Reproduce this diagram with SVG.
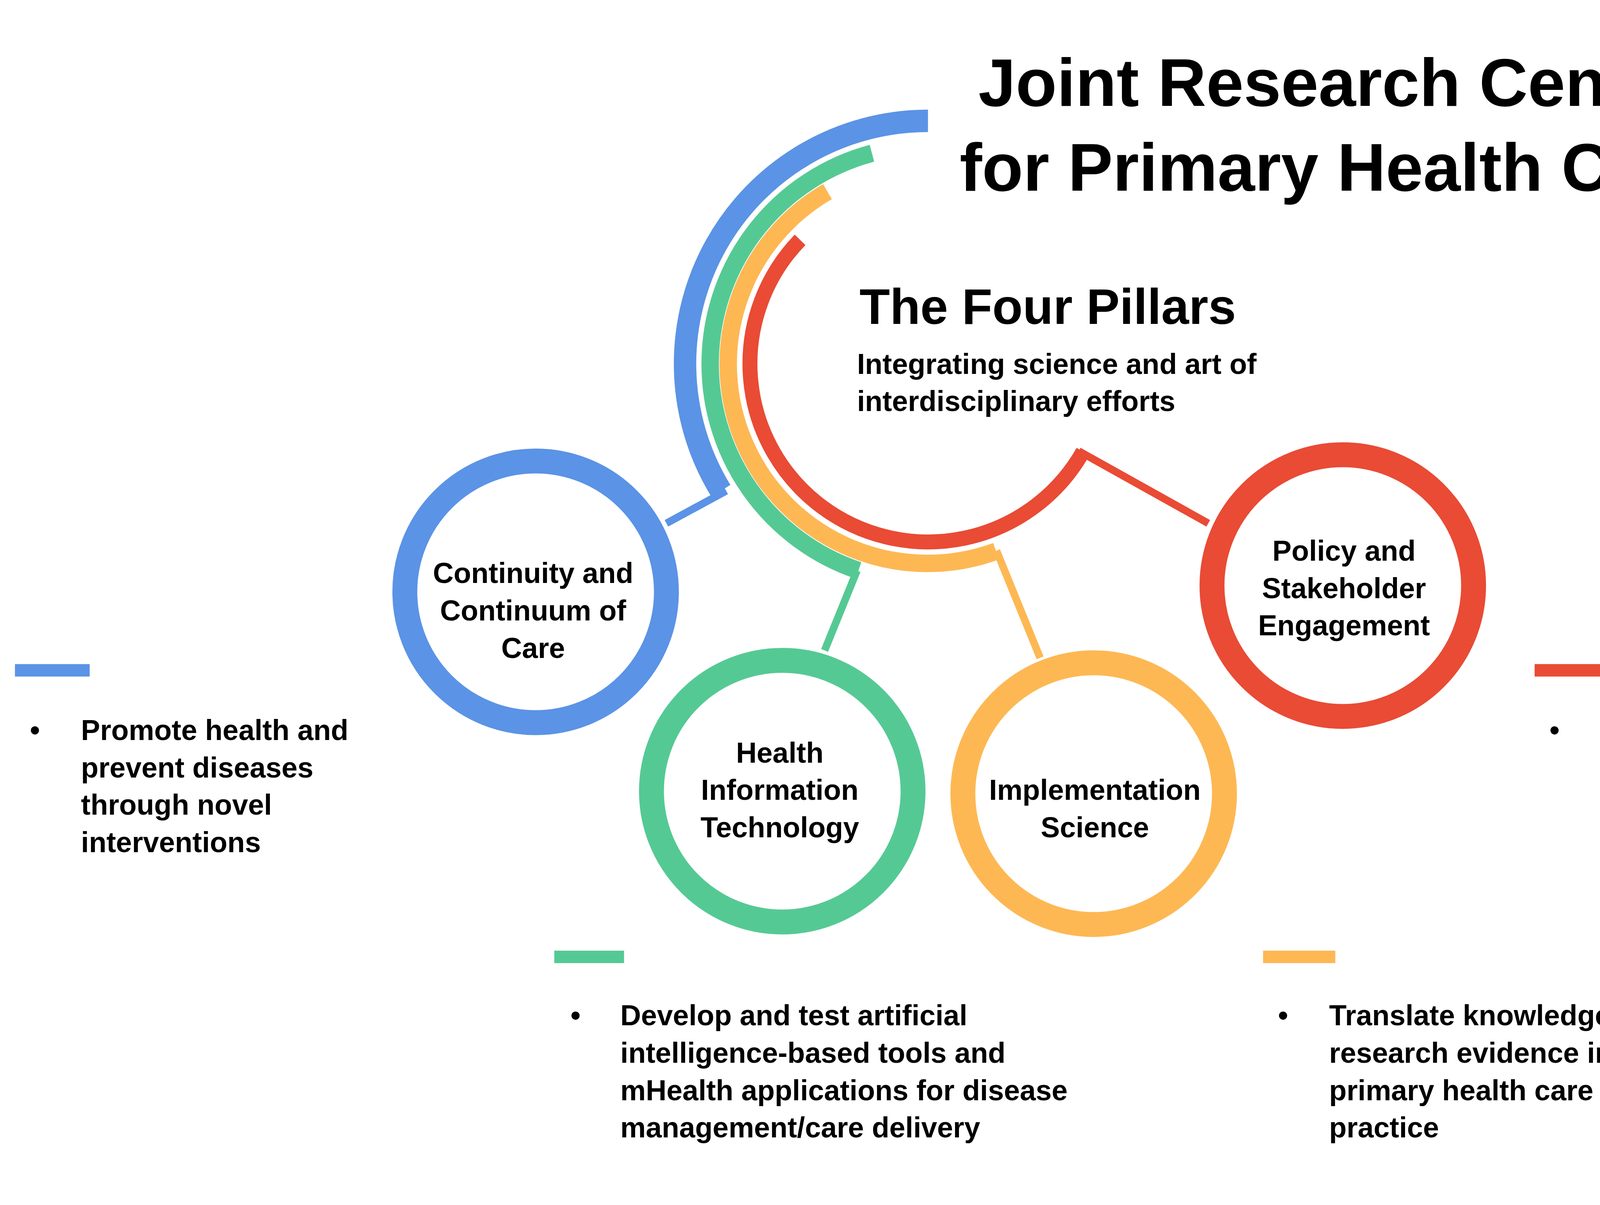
<svg xmlns="http://www.w3.org/2000/svg" width="5000" height="3084" viewBox="0 0 5000 3084">
<style>
text{font-family:"Liberation Sans",Arial,sans-serif;font-weight:bold;fill:#000}
.c{font-size:23px;text-anchor:middle}
.b{font-size:23px}
.arc{fill:none}
.blue{stroke:#5B93E6}.green{stroke:#55C994}.orange{stroke:#FDB854}.red{stroke:#E94B35}
.ring{fill:#fff;stroke-width:20}
</style>
<rect width="5000" height="3084" fill="#fff"/>
<g transform="scale(3.1888)">
<g id="title">
<text x="1072" y="85" style="font-size:54px" text-anchor="middle">Joint Research Centre</text>
<text x="1072" y="153" style="font-size:54px" text-anchor="middle">for Primary Health Care</text>
</g>
<g id="pillars">
<path class="arc blue" stroke-width="18" d="M745,97 A195,195 0 0 0 578.7,393.9"/>
<path class="arc green" stroke-width="14" d="M700,123 A175,175 0 0 0 689.2,457.9"/>
<path class="arc orange" stroke-width="14" d="M664.3,153.8 A160,160 0 0 0 799.7,442.4"/>
<path class="arc red" stroke-width="12" d="M642.3,192.5 A143,143 0 1 0 869.5,362.4"/>
<text x="690" y="260" style="font-size:40px">The Four Pillars</text>
<text x="688" y="300" class="b">Integrating science and art of</text>
<text x="688" y="330" class="b">interdisciplinary efforts</text>
</g>
<g id="connectors" stroke-width="6">
<line class="blue" x1="583" y1="394" x2="535" y2="420"/>
<line class="green" x1="688" y1="458" x2="662" y2="522"/>
<line class="orange" x1="800" y1="442" x2="835" y2="528"/>
<line class="red" x1="866" y1="362" x2="970" y2="420"/>
</g>
<g id="continuity">
<circle class="ring blue" cx="430" cy="475" r="105"/>
<text class="c" x="428" y="468">Continuity and</text>
<text class="c" x="428" y="498">Continuum of</text>
<text class="c" x="428" y="528">Care</text>
</g>
<g id="hit">
<circle class="ring green" cx="628" cy="635" r="105"/>
<text class="c" x="626" y="612">Health</text>
<text class="c" x="626" y="642">Information</text>
<text class="c" x="626" y="672">Technology</text>
</g>
<g id="impl">
<circle class="ring orange" cx="878" cy="637" r="105"/>
<text class="c" x="879" y="642">Implementation</text>
<text class="c" x="879" y="672">Science</text>
</g>
<g id="policy">
<circle class="ring red" cx="1078" cy="470" r="105"/>
<text class="c" x="1079" y="450">Policy and</text>
<text class="c" x="1079" y="480">Stakeholder</text>
<text class="c" x="1079" y="510">Engagement</text>
</g>
<g id="desc-blue">
<rect x="12" y="533" width="60" height="10" fill="#5B93E6"/>
<text class="b" x="24" y="594">•</text>
<text class="b" x="65" y="594">Promote health and</text>
<text class="b" x="65" y="624">prevent diseases</text>
<text class="b" x="65" y="654">through novel</text>
<text class="b" x="65" y="684">interventions</text>
</g>
<g id="desc-green">
<rect x="445" y="763" width="56" height="10" fill="#55C994"/>
<text class="b" x="458" y="823">•</text>
<text class="b" x="498" y="823">Develop and test artificial</text>
<text class="b" x="498" y="853">intelligence-based tools and</text>
<text class="b" x="498" y="883">mHealth applications for disease</text>
<text class="b" x="498" y="913">management/care delivery</text>
</g>
<g id="desc-orange">
<rect x="1014" y="763" width="58" height="10" fill="#FDB854"/>
<text class="b" x="1026" y="823">•</text>
<text class="b" x="1067" y="823">Translate knowledge and</text>
<text class="b" x="1067" y="853">research evidence into</text>
<text class="b" x="1067" y="883">primary health care</text>
<text class="b" x="1067" y="913">practice</text>
</g>
<g id="desc-red">
<rect x="1232" y="533" width="58" height="10" fill="#E94B35"/>
<text class="b" x="1244" y="594">•</text>
<text class="b" x="1285" y="594">Engage stakeholders</text>
<text class="b" x="1285" y="624">and shape policy to co-</text>
<text class="b" x="1285" y="654">design primary health</text>
<text class="b" x="1285" y="684">care service</text>
</g>
</g>
</svg>
